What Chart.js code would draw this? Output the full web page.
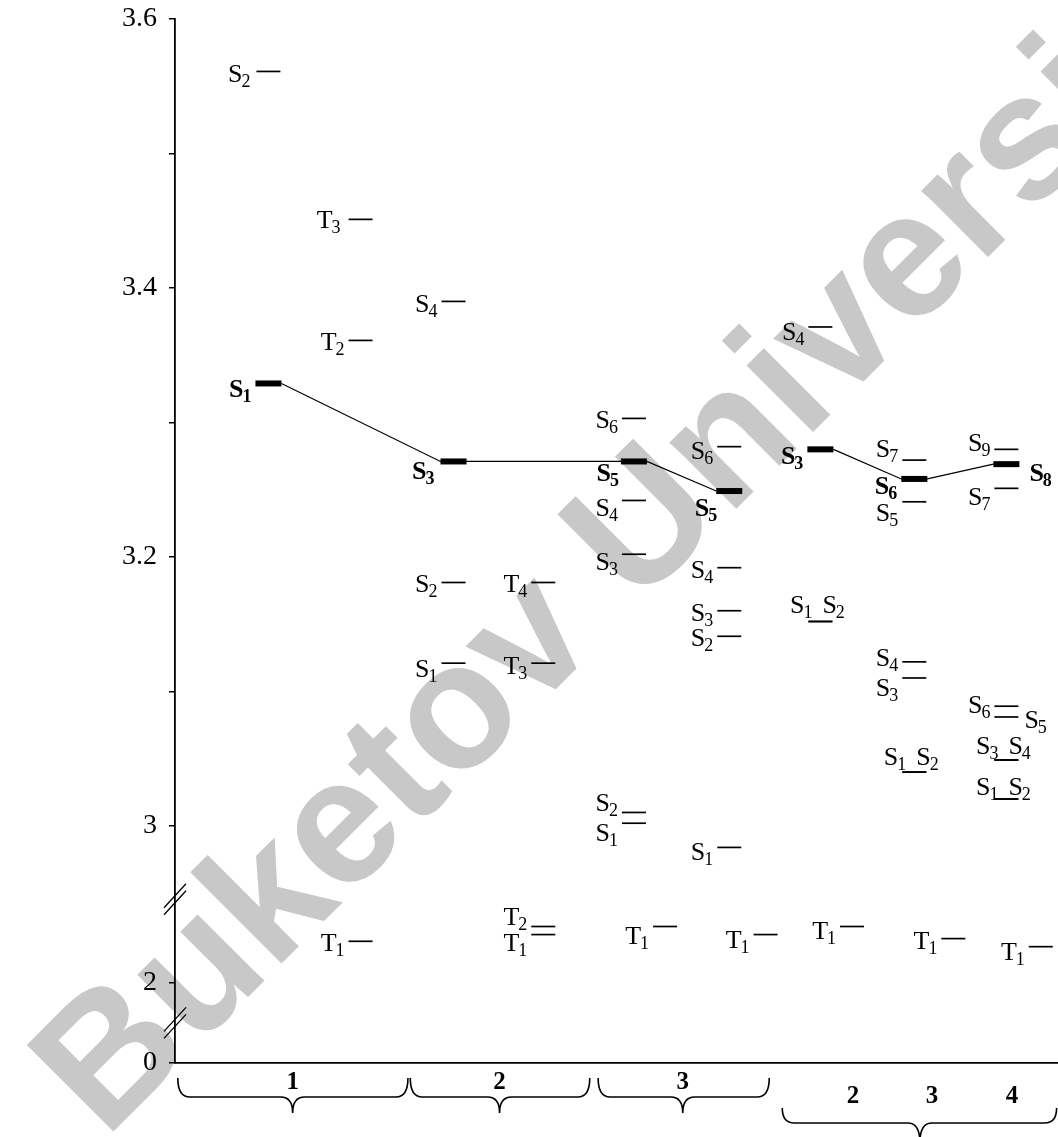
<!DOCTYPE html>
<html>
<head>
<meta charset="utf-8">
<script src="https://cdn.jsdelivr.net/npm/chart.js@4.4.0/dist/chart.umd.min.js"></script>
<style>
html,body{margin:0;padding:0;background:#fff;}
#wrap{position:relative;width:1058px;height:1137px;}
</style>
</head>
<body>
<div id="wrap"><canvas id="c"></canvas></div>
<script>
// ================= DATA =================
const groupLabels = ['1', '2', '3'];
const blockLabels = ['2', '3', '4'];
const yTickValues = [0, 2, 3, 3.2, 3.4, 3.6];
const yMinorTickValues = [3.1, 3.3, 3.5];
const watermarkText = 'Buketov University';

// energy levels (eV), singlets and triplets per column
const sys1S_names = ['S2', 'S1'];
const sys1S_values = [3.561, 3.329];
const sys1T_names = ['T3', 'T2', 'T1'];
const sys1T_values = [3.451, 3.361, 2.031];

const sys2S_names = ['S4', 'S3', 'S2', 'S1'];
const sys2S_values = [3.390, 3.271, 3.181, 3.121];
const sys2T_names = ['T4', 'T3', 'T2', 'T1'];
const sys2T_values = [3.181, 3.121, 2.042, 2.036];

const sys3aS_names = ['S6', 'S5', 'S4', 'S3', 'S2', 'S1'];
const sys3aS_values = [3.303, 3.271, 3.242, 3.202, 3.010, 3.002];
const sys3aT_names = ['T1'];
const sys3aT_values = [2.042];

const sys3bS_names = ['S6', 'S5', 'S4', 'S3', 'S2', 'S1'];
const sys3bS_values = [3.282, 3.249, 3.192, 3.160, 3.141, 2.984];
const sys3bT_names = ['T1'];
const sys3bT_values = [2.036];

const blk2S_names = ['S4', 'S3', 'S1', 'S2'];
const blk2S_values = [3.371, 3.280, 3.152, 3.152];
const blk2T_names = ['T1'];
const blk2T_values = [2.042];

const blk3S_names = ['S7', 'S6', 'S5', 'S4', 'S3', 'S1', 'S2'];
const blk3S_values = [3.272, 3.258, 3.241, 3.122, 3.110, 3.040, 3.040];
const blk3T_names = ['T1'];
const blk3T_values = [2.033];

const blk4S_names = ['S9', 'S8', 'S7', 'S6', 'S5', 'S3', 'S4', 'S1', 'S2'];
const blk4S_values = [3.280, 3.269, 3.251, 3.089, 3.081, 3.049, 3.049, 3.020, 3.020];
const blk4T_names = ['T1'];
const blk4T_values = [2.027];

// highlighted (bold, connected) states
const pathA = [['c1S', 'S1'], ['c2S', 'S3'], ['c3aS', 'S5'], ['c3bS', 'S5']];
const pathB = [['c4S', 'S3'], ['c5S', 'S6'], ['c6S', 'S8']];

// ================= LAYOUT / STYLE =================
const SERIF = "'Liberation Serif','Times New Roman',serif";
const X_MAX = 9.495;
const HW = 0.129, BOLD_HW = 0.14;
// broken axis: map energy to display coordinate
const OFF_MID = 0.8832, OFF_LOW = 2.8237;
function toDisplay(v) {
  if (v >= 2.5) return v;
  if (v >= 1) return v + OFF_MID;
  return v + OFF_LOW;
}
const AXIS_BREAKS = [2.9455, 2.8535];

// label placement: [mode, dy, gap]
const COLS = {
  c1S:  {x: 1.005, names: sys1S_names, values: sys1S_values, place: [['L', 2, 6], ['L', 5]]},
  c1T:  {x: 1.995, names: sys1T_names, values: sys1T_values, place: [['L', 0, 8], ['L', 1], ['L', 1]]},
  c2S:  {x: 2.995, names: sys2S_names, values: sys2S_values, place: [['L', 2], ['L', 9, 6], ['L', 1], ['L', 5]]},
  c2T:  {x: 3.96,  names: sys2T_names, values: sys2T_values, place: [['L', 1], ['L', 2], ['L', -10], ['L', 8]]},
  c3aS: {x: 4.935, names: sys3aS_names, values: sys3aS_values, place: [['L', 1], ['L', 11, 2], ['L', 7], ['L', 7], ['L', -10], ['L', 9]]},
  c3aT: {x: 5.27,  names: sys3aT_names, values: sys3aT_values, place: [['L', 9]]},
  c3bS: {x: 5.96,  names: sys3bS_names, values: sys3bS_values, place: [['L', 4], ['L', 16, -1], ['L', 2], ['L', 2], ['L', 1], ['L', 4]]},
  c3bT: {x: 6.35,  names: sys3bT_names, values: sys3bT_values, place: [['L', 5]]},
  c4S:  {x: 6.94,  names: blk2S_names, values: blk2S_values, place: [['L', 5], ['L', 6], ['PL', -17], ['PR', -17]]},
  c4T:  {x: 7.28,  names: blk2T_names, values: blk2T_values, place: [['L', 4]]},
  c5S:  {x: 7.95,  names: blk3S_names, values: blk3S_values, place: [['L', -12], ['L', 7], ['L', 11], ['L', -4], ['L', 10], ['PL', -16], ['PR', -16]]},
  c5T:  {x: 8.37,  names: blk3T_names, values: blk3T_values, place: [['L', 2]]},
  c6S:  {x: 8.94,  names: blk4S_names, values: blk4S_values, place: [['L', -7], ['R', 8, 10], ['L', 8], ['L', -2], ['R', 3, 6], ['PL', -15], ['PR', -15], ['PL', -13], ['PR', -13]]},
  c6T:  {x: 9.31,  names: blk4T_names, values: blk4T_values, place: [['L', 5]]}
};
// braces under the x axis (x units), offsets in px below axis
const GROUP_BRACES = [
  {xl: 0.03, xr: 2.505, xc: 1.265},
  {xl: 2.53, xr: 4.46, xc: 3.49},
  {xl: 4.55, xr: 6.39, xc: 5.46}
];
const BLOCK_BRACE = {xl: 6.53, xr: 9.48, xc: 8.01};
const BLOCK_LABEL_X = [7.29, 8.14, 9.0];

function isBold(key, name) {
  return pathA.concat(pathB).some(p => p[0] === key && p[1] === name);
}

const datasets = [];
const labelItems = [];
for (const key of Object.keys(COLS)) {
  const col = COLS[key];
  col.values.forEach((v, i) => {
    const bold = isBold(key, col.names[i]);
    const hw = bold ? BOLD_HW : HW;
    datasets.push({
      data: [{x: col.x - hw, y: toDisplay(v)}, {x: col.x + hw, y: toDisplay(v)}],
      borderColor: '#000', borderWidth: bold ? 6 : 1.7,
      pointRadius: 0, showLine: true, fill: false, tension: 0, borderCapStyle: 'butt'
    });
    labelItems.push({name: col.names[i], x0: col.x - hw, x1: col.x + hw, y: toDisplay(v), spec: col.place[i], bold});
  });
}
for (const path of [pathA, pathB]) {
  const pts = [];
  path.forEach(([key, name], i) => {
    const col = COLS[key];
    const d = toDisplay(col.values[col.names.indexOf(name)]);
    if (i > 0) pts.push({x: col.x - BOLD_HW, y: d});
    if (i < path.length - 1) pts.push({x: col.x + BOLD_HW, y: d});
  });
  datasets.push({data: pts, borderColor: '#000', borderWidth: 1.2, pointRadius: 0, showLine: true, fill: false, tension: 0});
}

const allTicks = yTickValues.concat(yMinorTickValues).sort((a, b) => a - b);
function tickLabel(val) {
  for (const v of yTickValues) if (Math.abs(toDisplay(v) - val) < 1e-6) return String(v);
  return '';
}

function drawLabel(ctx, sx, sy, it) {
  const [mode, dy, gapOv] = it.spec;
  const main = it.name[0], sub = it.name.slice(1);
  const fMain = (it.bold ? 'bold ' : '') + '26px ' + SERIF;
  const fSub = (it.bold ? 'bold ' : '') + '18px ' + SERIF;
  ctx.font = fMain; const wm = ctx.measureText(main).width;
  ctx.font = fSub; const ws = ctx.measureText(sub).width;
  const w = wm + ws - 1;
  const px0 = sx.getPixelForValue(it.x0), px1 = sx.getPixelForValue(it.x1);
  const py = sy.getPixelForValue(it.y);
  const gap = gapOv !== undefined ? gapOv : 4;
  const cx = (px0 + px1) / 2;
  let xl;
  if (mode === 'L') xl = px0 - gap - w;
  else if (mode === 'R') xl = px1 + gap;
  else if (mode === 'PL') xl = cx - 8 - w;
  else xl = cx + 2;
  const base = py + dy + 8.5;
  ctx.fillStyle = '#000'; ctx.textAlign = 'left'; ctx.textBaseline = 'alphabetic';
  ctx.font = fMain; ctx.fillText(main, xl, base);
  ctx.font = fSub; ctx.fillText(sub, xl + wm - 1, base + 5);
}

function drawBrace(ctx, xl, xr, xc, yTop, yMid, yTip) {
  const r = 12;
  ctx.beginPath();
  ctx.moveTo(xl, yTop);
  ctx.quadraticCurveTo(xl, yMid, xl + r, yMid);
  ctx.lineTo(xc - r, yMid);
  ctx.quadraticCurveTo(xc, yMid, xc, yTip);
  ctx.quadraticCurveTo(xc, yMid, xc + r, yMid);
  ctx.lineTo(xr - r, yMid);
  ctx.quadraticCurveTo(xr, yMid, xr, yTop);
  ctx.stroke();
}

const decor = {
  id: 'decor',
  beforeDraw(chart) {
    const ctx = chart.ctx;
    ctx.save();
    ctx.fillStyle = '#fff';
    ctx.fillRect(0, 0, chart.width, chart.height);
    ctx.translate(105, 1140);
    ctx.rotate(-Math.PI / 4);
    ctx.fillStyle = '#c8c8c8';
    ctx.font = "bold 178px 'Liberation Sans', Arial, sans-serif";
    ctx.textBaseline = 'alphabetic';
    ctx.fillText(watermarkText, 0, 0);
    ctx.restore();
  },
  afterDraw(chart) {
    const ctx = chart.ctx, sx = chart.scales.x, sy = chart.scales.y;
    const bottom = chart.chartArea.bottom, left = chart.chartArea.left;
    ctx.save();
    labelItems.forEach(it => drawLabel(ctx, sx, sy, it));
    // axis breaks
    ctx.strokeStyle = '#000'; ctx.lineWidth = 1.3;
    AXIS_BREAKS.forEach(b => {
      const y = sy.getPixelForValue(b);
      [-3.5, 3.5].forEach(o => {
        ctx.beginPath();
        ctx.moveTo(left - 11, y + 12 + o);
        ctx.lineTo(left + 11, y - 12 + o);
        ctx.stroke();
      });
    });
    // braces
    ctx.lineWidth = 1.6;
    GROUP_BRACES.forEach(g => {
      drawBrace(ctx, sx.getPixelForValue(g.xl), sx.getPixelForValue(g.xr), sx.getPixelForValue(g.xc), bottom + 15, bottom + 34, bottom + 50);
    });
    drawBrace(ctx, sx.getPixelForValue(BLOCK_BRACE.xl), sx.getPixelForValue(BLOCK_BRACE.xr), sx.getPixelForValue(BLOCK_BRACE.xc), bottom + 45, bottom + 60, bottom + 80);
    ctx.fillStyle = '#000'; ctx.textAlign = 'center'; ctx.textBaseline = 'middle';
    ctx.font = 'bold 25px ' + SERIF;
    GROUP_BRACES.forEach((g, i) => ctx.fillText(groupLabels[i], sx.getPixelForValue(g.xc), bottom + 20));
    BLOCK_LABEL_X.forEach((x, i) => ctx.fillText(blockLabels[i], sx.getPixelForValue(x), bottom + 34));
    ctx.restore();
  }
};

new Chart(document.getElementById('c'), {
  type: 'scatter',
  data: {datasets},
  options: {
    responsive: true, maintainAspectRatio: false, animation: false,
    layout: {padding: {top: 19, left: 0, right: 0, bottom: 0}},
    plugins: {legend: {display: false}, tooltip: {enabled: false}},
    scales: {
      x: {
        type: 'linear', min: 0, max: X_MAX,
        afterFit: s => { s.height = 74; s.paddingLeft = 0; s.paddingRight = 0; },
        ticks: {display: false},
        grid: {display: false, drawTicks: false},
        border: {display: true, color: '#000', width: 1.8}
      },
      y: {
        type: 'linear', min: toDisplay(0), max: 3.6,
        afterBuildTicks: s => { s.ticks = allTicks.map(v => ({value: toDisplay(v)})); },
        afterFit: s => { s.width = 175; s.paddingTop = 0; s.paddingBottom = 0; },
        ticks: {autoSkip: false, padding: 12, color: '#000', font: {size: 28, family: SERIF}, callback: v => tickLabel(v)},
        grid: {display: true, drawOnChartArea: false, drawTicks: true, tickLength: 6, color: '#000', lineWidth: 1.5},
        border: {display: true, color: '#000', width: 1.8}
      }
    }
  },
  plugins: [decor]
});
</script>
</body>
</html>
